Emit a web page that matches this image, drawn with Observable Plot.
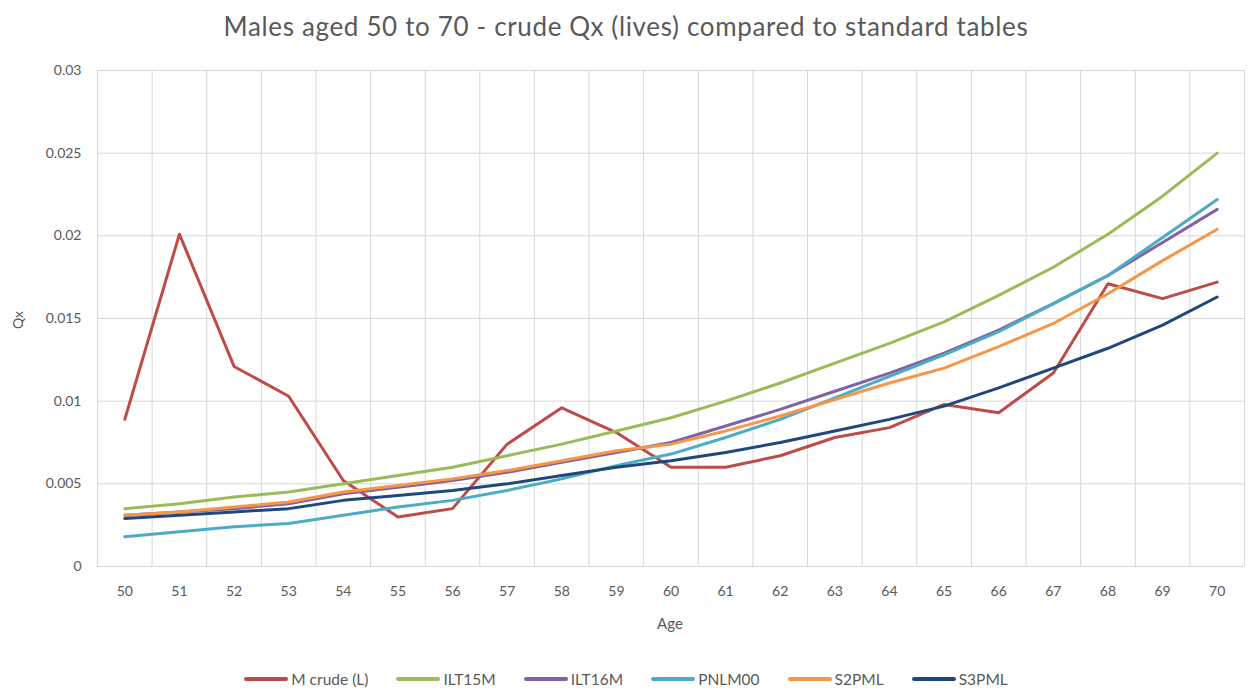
<!DOCTYPE html>
<html>
<head>
<meta charset="utf-8">
<script src="https://cdn.jsdelivr.net/npm/d3@7"></script>
<script src="https://cdn.jsdelivr.net/npm/@observablehq/plot@0.6"></script>
<style>
  html, body { margin: 0; padding: 0; background: #fff; }
  #wrap { position: relative; width: 1252px; height: 690px; font-family: Lato, "Open Sans", sans-serif; color: #595959; overflow: hidden; }
  #title { position: absolute; left: 0; top: 10px; width: 1252px; text-align: center; font-size: 26px; letter-spacing: 0.65px; color: #595959; }
  #chart { position: absolute; left: 0; top: 50px; }
  #ylabel { position: absolute; left: 17px; top: 320px; transform: translate(-50%, -50%) rotate(-90deg); font-size: 14px; }
  #xlabel { position: absolute; left: 670px; top: 623px; transform: translate(-50%, -50%); font-size: 15px; }
  #legend { position: absolute; left: 0; top: 670px; width: 1252px; display: flex; justify-content: center; gap: 28px; font-size: 15.5px; }
  .item { display: flex; align-items: center; }
  .sw { display: inline-block; width: 44px; height: 4px; border-radius: 2px; margin-right: 3px; }
</style>
</head>
<body>
<div id="wrap">
  <div id="title">Males aged 50 to 70 - crude Qx (lives) compared to standard tables</div>
  <div id="chart"></div>
  <div id="ylabel">Qx</div>
  <div id="xlabel">Age</div>
  <div id="legend"></div>
</div>
<script>
const ages = [50, 51, 52, 53, 54, 55, 56, 57, 58, 59, 60, 61, 62, 63, 64, 65, 66, 67, 68, 69, 70];
const mCrude = [0.0089, 0.0201, 0.0121, 0.0103, 0.0052, 0.0030, 0.0035, 0.0074, 0.0096, 0.0081, 0.0060, 0.0060, 0.0067, 0.0078, 0.0084, 0.0098, 0.0093, 0.0117, 0.0171, 0.0162, 0.0172];
const ilt15m = [0.0035, 0.0038, 0.0042, 0.0045, 0.0050, 0.0055, 0.0060, 0.0067, 0.0074, 0.0082, 0.0090, 0.0100, 0.0111, 0.0123, 0.0135, 0.0148, 0.0164, 0.0181, 0.0201, 0.0224, 0.0250];
const ilt16m = [0.0031, 0.0033, 0.0035, 0.0038, 0.0044, 0.0048, 0.0052, 0.0057, 0.0063, 0.0069, 0.0075, 0.0085, 0.0095, 0.0106, 0.0117, 0.0129, 0.0143, 0.0159, 0.0176, 0.0196, 0.0216];
const pnlm00 = [0.0018, 0.0021, 0.0024, 0.0026, 0.0031, 0.0036, 0.0040, 0.0046, 0.0053, 0.0061, 0.0068, 0.0078, 0.0089, 0.0102, 0.0115, 0.0128, 0.0142, 0.0159, 0.0176, 0.0199, 0.0222];
const s2pml = [0.0031, 0.0033, 0.0036, 0.0039, 0.0045, 0.0049, 0.0053, 0.0058, 0.0064, 0.0070, 0.0074, 0.0082, 0.0091, 0.0101, 0.0111, 0.0120, 0.0133, 0.0147, 0.0165, 0.0185, 0.0204];
const s3pml = [0.0029, 0.0031, 0.0033, 0.0035, 0.0040, 0.0043, 0.0046, 0.0050, 0.0055, 0.0060, 0.0064, 0.0069, 0.0075, 0.0082, 0.0089, 0.0097, 0.0108, 0.0120, 0.0132, 0.0146, 0.0163];
const seriesNames = ["M crude (L)", "ILT15M", "ILT16M", "PNLM00", "S2PML", "S3PML"];
const seriesValues = [mCrude, ilt15m, ilt16m, pnlm00, s2pml, s3pml];
const seriesColors = ["#BE4B48", "#9BBB59", "#8064A2", "#4BACC6", "#F79646", "#1F497D"];
const yTicks = [0, 0.005, 0.01, 0.015, 0.02, 0.025, 0.03];
const yTickLabels = ["0", "0.005", "0.01", "0.015", "0.02", "0.025", "0.03"];

const rows = seriesNames.flatMap((name, i) =>
  seriesValues[i].map((v, j) => ({series: name, age: ages[j], qx: v})));
const bounds = [...ages.map(a => a - 0.5), ages[ages.length - 1] + 0.5];

const chart = Plot.plot({
  width: 1252,
  height: 600,
  marginTop: 20,
  marginBottom: 84,
  marginLeft: 97,
  marginRight: 8,
  style: {fontFamily: "Lato, 'Open Sans', sans-serif", fontSize: "14px", color: "#595959", background: "#fff"},
  x: {domain: [ages[0] - 0.5, ages[ages.length - 1] + 0.5], ticks: ages, tickSize: 0, tickPadding: 20, tickFormat: d => String(d), label: null},
  y: {domain: [0, 0.03], ticks: yTicks, tickSize: 0, tickPadding: 16, tickFormat: d => yTickLabels[yTicks.indexOf(d)] ?? String(d), label: null},
  color: {domain: seriesNames, range: seriesColors},
  marks: [
    Plot.ruleX(bounds, {stroke: "#d6d6d6", strokeWidth: 1}),
    Plot.ruleY(yTicks, {stroke: "#d6d6d6", strokeWidth: 1}),
    Plot.line(rows, {x: "age", y: "qx", z: "series", stroke: "series", strokeWidth: 3, strokeLinejoin: "round", strokeLinecap: "round"})
  ]
});
document.getElementById("chart").appendChild(chart);

const legend = document.getElementById("legend");
seriesNames.forEach((name, i) => {
  const item = document.createElement("div");
  item.className = "item";
  const sw = document.createElement("span");
  sw.className = "sw";
  sw.style.background = seriesColors[i];
  const label = document.createElement("span");
  label.textContent = name;
  item.appendChild(sw);
  item.appendChild(label);
  legend.appendChild(item);
});
</script>
</body>
</html>
